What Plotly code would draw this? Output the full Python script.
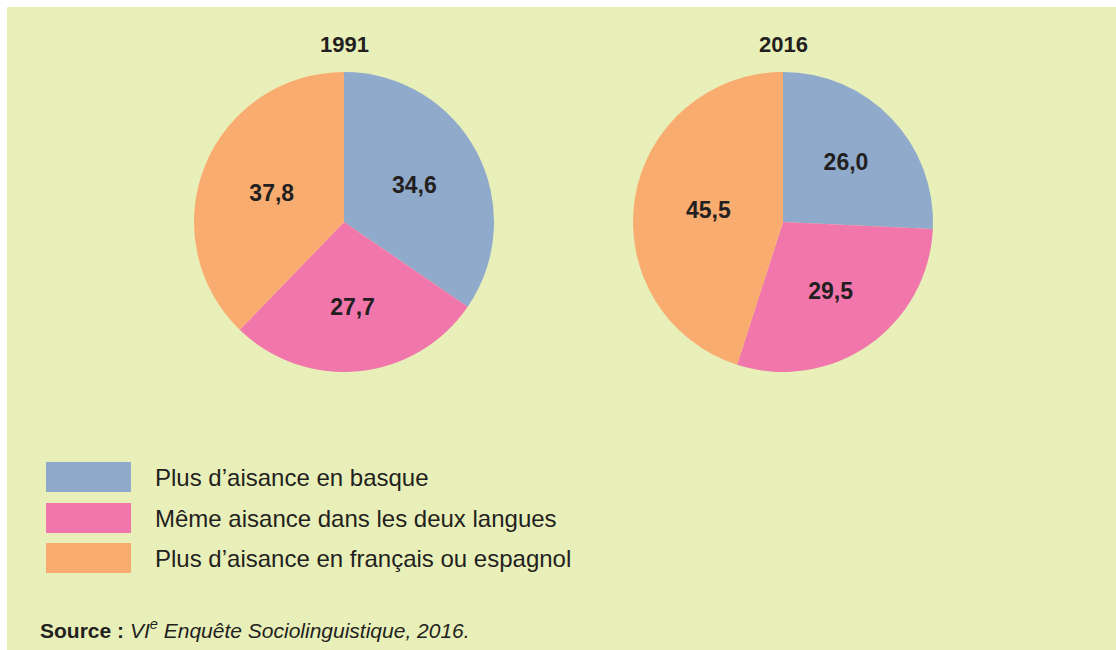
import plotly.graph_objects as go

years = ["1991", "2016"]
categories = ["Plus d’aisance en basque", "Même aisance dans les deux langues", "Plus d’aisance en français ou espagnol"]
values_1991 = [34.6, 27.7, 37.8]
values_2016 = [26.0, 29.5, 45.5]
colors = ["#8FAACB", "#F076AB", "#F9AC70"]

W, H = 1116, 650
BG = "#E9EFB9"
TXT = "#231F20"
FONT = "Arial, Liberation Sans, sans-serif"

def fmt(v):
    return "<b>" + f"{v:.1f}".replace(".", ",") + "</b>"

fig = go.Figure()

centers = [344, 783]
R = 150
cy = 222
for yr, vals, cx in zip(years, [values_1991, values_2016], centers):
    fig.add_trace(go.Pie(
        labels=categories,
        values=vals,
        text=[fmt(v) for v in vals],
        textinfo="text",
        textposition="inside",
        insidetextorientation="horizontal",
        textfont=dict(family=FONT, size=23, color=TXT),
        marker=dict(colors=colors, line=dict(width=0)),
        sort=False,
        direction="clockwise",
        rotation=0,
        showlegend=False,
        hoverinfo="label+value",
        domain=dict(x=[(cx - R) / W, (cx + R) / W], y=[(H - cy - R) / H, (H - cy + R) / H]),
        name=yr,
    ))
    fig.add_annotation(x=cx / W, y=(H - 45) / H, xref="paper", yref="paper",
                       text=f"<b>{yr}</b>", showarrow=False,
                       font=dict(family=FONT, size=22, color=TXT),
                       xanchor="center", yanchor="middle")

shapes = [dict(type="rect", xref="paper", yref="paper", x0=7 / W, x1=1, y0=0, y1=(H - 7) / H,
               fillcolor=BG, line=dict(width=0), layer="below")]
leg_y = [477, 518, 558]
for cat, col, ly in zip(categories, colors, leg_y):
    shapes.append(dict(type="rect", xref="paper", yref="paper",
                       x0=46 / W, x1=131 / W, y0=(H - ly - 15) / H, y1=(H - ly + 15) / H,
                       fillcolor=col, line=dict(width=0)))
    fig.add_annotation(x=153 / W, y=(H - ly) / H, xref="paper", yref="paper",
                       text=cat, showarrow=False, xanchor="left", yanchor="middle",
                       font=dict(family=FONT, size=24, color=TXT))

fig.add_annotation(x=38 / W, y=(H - 629) / H, xref="paper", yref="paper",
                   text="<b>Source :</b> <i>VI<sup>e</sup> Enquête Sociolinguistique, 2016.</i>",
                   showarrow=False, xanchor="left", yanchor="middle",
                   font=dict(family=FONT, size=21, color=TXT))

fig.update_layout(
    width=W, height=H,
    margin=dict(l=0, r=0, t=0, b=0),
    paper_bgcolor="white",
    plot_bgcolor=BG,
    shapes=shapes,
)

fig.write_html("out.html", config={"displayModeBar": False},
               post_script="document.body.style.margin='0';")
